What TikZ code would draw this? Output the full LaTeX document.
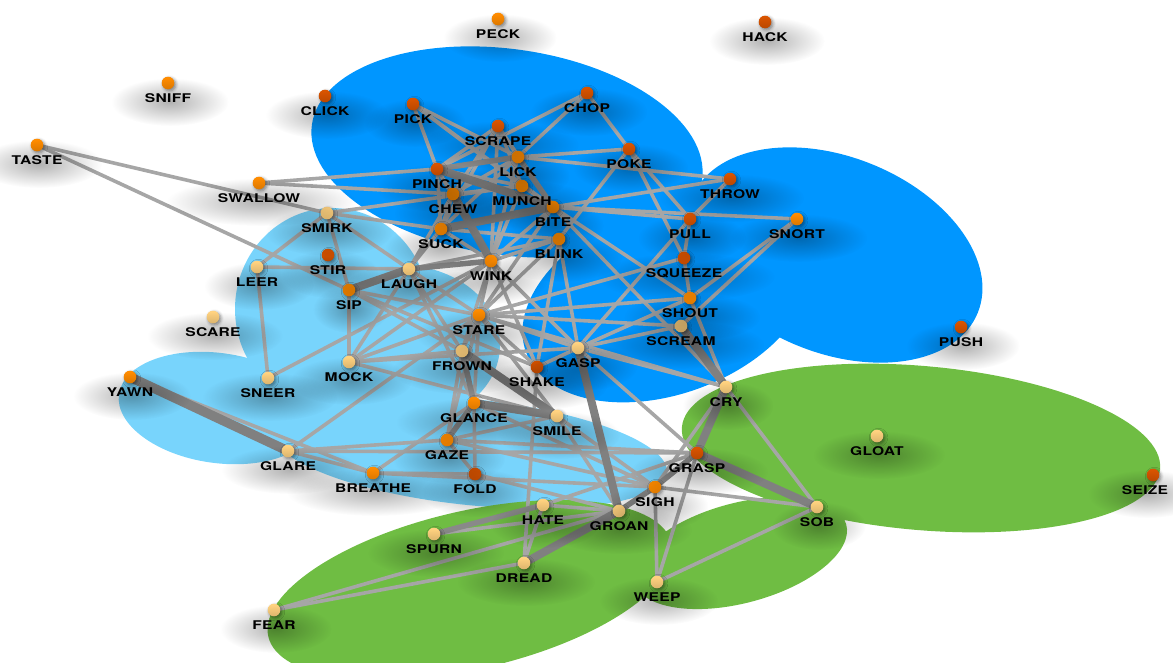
\documentclass[tikz,border=0pt]{standalone}
\usepackage{fontspec}
\setmainfont{TeX Gyre Heros}[FakeStretch=1.3,LetterSpace=2.5]
\usetikzlibrary{calc,shadows.blur,fadings}
\definecolor{dblue}{RGB}{0,150,255}
\definecolor{lblue}{RGB}{120,212,252}
\definecolor{grn}{RGB}{111,189,67}
\definecolor{cred}{RGB}{217,84,0}
\definecolor{corg}{RGB}{255,140,0}
\definecolor{cyel}{RGB}{255,210,128}
\definecolor{eln}{RGB}{166,166,166}
\definecolor{etk}{RGB}{128,128,128}
\tikzfading[name=softfade,inner color=transparent!0,outer color=transparent!100]
\newcommand\labfont{\fontsize{12}{12}\selectfont\bfseries}
\tikzset{
  vpt/.style={circle,minimum size=12.6pt,inner sep=0pt,draw=none},
  dot/.style={circle,minimum size=12.6pt,inner sep=0pt,draw=none,
    blur shadow={shadow xshift=1.5pt,shadow yshift=-1.5pt,shadow blur radius=3pt,shadow opacity=45}},
  lab/.style={font=\labfont,inner sep=0pt,text=black},
  halo/.style={fill=black,opacity=0.30,path fading=softfade},
  ln/.style={draw=eln,line width=3.6pt},
  md/.style={draw=etk!75!eln,line width=5.5pt},
  tk/.style={draw=etk,line width=8pt},
}
\newcommand\vx[3]{\node[vpt] (#2) at (#3) {};}
\newcommand\vd[2]{\path (#2) node[dot,fill=#1] {};}
\newcommand\vl[3]{%
  \node[lab] (#1lab) at ($(#1)+(#3,15)$) {#2};
  \fill[halo] let \p1=(#1lab.east), \p2=(#1lab.west), \p3=(#1lab.center) in
    (\x3+2pt,\y3-4pt) ellipse [x radius={\x1-\x2+12pt},y radius=24pt];}
\begin{document}
\begin{tikzpicture}[x=1pt,y=-1pt]
\useasboundingbox (0,0) rectangle (1173,662);
% dark blue
\fill[dblue,rotate around={-8:(507,152)}] (507,152) ellipse [x radius=197pt,y radius=103pt];
\fill[dblue,rotate around={20:(667,301)}] (667,301) ellipse [x radius=150pt,y radius=93pt];
\fill[dblue,rotate around={-22:(835,255)}] (835,255) ellipse [x radius=154pt,y radius=98pt];
% light blue
\fill[lblue] (332,309) ellipse [x radius=97pt,y radius=101pt];
\fill[lblue] (400,345) ellipse [x radius=100pt,y radius=80pt];
\fill[lblue,rotate around={-8:(218,408)}] (218,408) ellipse [x radius=100pt,y radius=55pt];
\fill[lblue,rotate around={-6:(470,452)}] (470,452) ellipse [x radius=198pt,y radius=53pt];
% green
\fill[grn,rotate around={-5:(921,448)}] (921,448) ellipse [x radius=240pt,y radius=82pt];
\fill[grn,rotate around={15:(740,553)}] (740,553) ellipse [x radius=110pt,y radius=50pt];
\fill[grn,rotate around={13:(470,590)}] (470,590) ellipse [x radius=207pt,y radius=79pt];
% vertex positions
\vx{corg}{PECK}{498,19}
\vx{cred}{HACK}{765,22}
\vx{corg}{SNIFF}{168,83}
\vx{cred}{CLICK}{325,96}
\vx{cred}{PICK}{413,104}
\vx{cred}{CHOP}{587,93}
\vx{cred}{SCRAPE}{498,126}
\vx{corg}{TASTE}{37,145}
\vx{corg}{LICK}{518,157}
\vx{cred}{PINCH}{437,169}
\vx{cred}{POKE}{629,149}
\vx{corg}{MUNCH}{522,186}
\vx{cred}{THROW}{730,179}
\vx{corg}{SWALLOW}{259,183}
\vx{corg}{CHEW}{453,194}
\vx{corg}{BITE}{553,207}
\vx{cred}{PULL}{690,219}
\vx{corg}{SNORT}{797,219}
\vx{cyel}{SMIRK}{327,213}
\vx{corg}{SUCK}{441,229}
\vx{corg}{BLINK}{559,239}
\vx{cred}{STIR}{328,255}
\vx{cyel}{LEER}{257,267}
\vx{cyel}{LAUGH}{409,269}
\vx{corg}{WINK}{491,261}
\vx{cred}{SQUEEZE}{684,258}
\vx{corg}{SIP}{349,290}
\vx{corg}{SHOUT}{690,298}
\vx{corg}{STARE}{479,315}
\vx{cyel}{SCARE}{213,317}
\vx{cyel}{SCREAM}{681,326}
\vx{cred}{PUSH}{961,327}
\vx{cyel}{FROWN}{462,351}
\vx{cyel}{GASP}{578,348}
\vx{cyel}{MOCK}{349,362}
\vx{cred}{SHAKE}{537,367}
\vx{cyel}{SNEER}{268,378}
\vx{corg}{YAWN}{130,377}
\vx{cyel}{CRY}{726,387}
\vx{corg}{GLANCE}{474,403}
\vx{cyel}{SMILE}{557,416}
\vx{cyel}{GLOAT}{877,436}
\vx{corg}{GAZE}{447,440}
\vx{cyel}{GLARE}{288,451}
\vx{cred}{GRASP}{697,453}
\vx{cred}{FOLD}{475,474}
\vx{corg}{BREATHE}{373,473}
\vx{cred}{SEIZE}{1153,475}
\vx{corg}{SIGH}{655,487}
\vx{cyel}{HATE}{543,505}
\vx{cyel}{SOB}{817,507}
\vx{cyel}{GROAN}{619,511}
\vx{cyel}{SPURN}{434,534}
\vx{cyel}{DREAD}{524,563}
\vx{cyel}{WEEP}{657,582}
\vx{cyel}{FEAR}{274,610}
% edges
\foreach \a/\b in {TASTE/SMIRK,TASTE/SIP,SWALLOW/PINCH,SWALLOW/CHEW,
  SMIRK/LEER,SMIRK/SIP,SMIRK/LAUGH,SMIRK/MUNCH,SMIRK/SUCK,
  LEER/SNEER,LEER/LAUGH,SNEER/WINK,
  SIP/MOCK,SIP/STARE,SIP/FROWN,SIP/SHAKE,
  LAUGH/SUCK,LAUGH/CHEW,LAUGH/BLINK,LAUGH/STARE,LAUGH/FROWN,LAUGH/MOCK,LAUGH/GLANCE,
  MOCK/STARE,MOCK/FROWN,MOCK/SMILE,MOCK/GASP,MOCK/WINK,
  GLARE/BREATHE,GLARE/GAZE,GLARE/STARE,GLARE/GRASP,YAWN/BREATHE,
  BREATHE/FOLD,BREATHE/SIGH,BREATHE/GLANCE,
  GAZE/FOLD,GAZE/FROWN,GAZE/STARE,GAZE/SMILE,GAZE/SIGH,GAZE/GRASP,
  FOLD/GLANCE,FOLD/GROAN,GLANCE/STARE,GLANCE/SIGH,
  SMILE/STARE,SMILE/SIGH,SMILE/GROAN,
  SHAKE/DREAD,SHAKE/GASP,SHAKE/STARE,SHAKE/WINK,SHAKE/BLINK,
  GASP/CRY,GASP/SCREAM,GASP/SHOUT,GASP/GRASP,GASP/STARE,GASP/BLINK,GASP/PULL,GASP/WINK,
  CRY/SOB,CRY/SHOUT,CRY/SIGH,CRY/STARE,CRY/BITE,
  GRASP/WEEP,GRASP/HATE,SIGH/WEEP,SIGH/SOB,SOB/WEEP,
  GROAN/HATE,GROAN/SPURN,FEAR/GROAN,FEAR/DREAD,HATE/DREAD,
  PICK/PINCH,PICK/LICK,PICK/MUNCH,PICK/BITE,
  CHOP/PINCH,CHOP/LICK,CHOP/POKE,
  SCRAPE/PINCH,SCRAPE/LICK,SCRAPE/CHEW,SCRAPE/MUNCH,SCRAPE/BITE,SCRAPE/SUCK,
  POKE/LICK,POKE/PULL,POKE/SQUEEZE,POKE/BLINK,
  THROW/LICK,THROW/PULL,THROW/BITE,PULL/BITE,PULL/SQUEEZE,
  SNORT/BITE,SNORT/SHOUT,SNORT/SCREAM,SQUEEZE/SHOUT,SQUEEZE/STARE,
  SHOUT/STARE,SHOUT/BITE,SCREAM/STARE,BITE/STARE,BITE/WINK,
  BLINK/STARE,BLINK/WINK,BLINK/SUCK,
  WINK/STARE,WINK/FROWN,WINK/LICK,WINK/MUNCH,WINK/SCRAPE,WINK/PINCH,
  CHEW/PINCH,CHEW/LICK,CHEW/SUCK,CHEW/MUNCH,SUCK/PINCH,SUCK/LICK,SUCK/WINK,
  MUNCH/BITE,MUNCH/PINCH,STARE/FROWN}
  \draw[ln] (\a.center) -- (\b.center);
\foreach \a/\b in {LAUGH/WINK,PINCH/LICK,LICK/BITE,FROWN/GLANCE,GLANCE/GAZE,
  GROAN/SIGH,SIGH/GRASP,HATE/SPURN}
  \draw[md] (\a.center) -- (\b.center);
\foreach \a/\b in {SIP/LAUGH,SUCK/BITE,PINCH/BITE,CHEW/WINK,GLANCE/SMILE,FROWN/SMILE,
  GASP/GROAN,GROAN/DREAD,GRASP/SOB,SCREAM/CRY,GRASP/CRY}
  \draw[tk] (\a.center) -- (\b.center);
\draw[tk,line width=9.5pt] (YAWN.center) -- (GLARE.center);
% dots
\foreach \w in {PECK,SNIFF,TASTE,LICK,MUNCH,SWALLOW,CHEW,BITE,SNORT,SUCK,BLINK,WINK,SIP,SHOUT,
  STARE,YAWN,GLANCE,GAZE,BREATHE,SIGH}
  \vd{corg}{\w};
\foreach \w in {HACK,CLICK,PICK,CHOP,SCRAPE,PINCH,POKE,THROW,PULL,STIR,SQUEEZE,PUSH,SHAKE,
  GRASP,FOLD,SEIZE}
  \vd{cred}{\w};
\foreach \w in {SMIRK,LEER,LAUGH,SCARE,SCREAM,FROWN,GASP,MOCK,SNEER,CRY,SMILE,GLOAT,GLARE,
  HATE,SOB,GROAN,SPURN,DREAD,WEEP,FEAR}
  \vd{cyel}{\w};
% labels
\foreach \w in {PECK,HACK,SNIFF,CLICK,PICK,CHOP,SCRAPE,TASTE,LICK,PINCH,POKE,MUNCH,THROW,
  SWALLOW,CHEW,BITE,PULL,SNORT,SMIRK,SUCK,BLINK,STIR,LEER,LAUGH,WINK,SQUEEZE,SIP,SHOUT,
  STARE,SCARE,SCREAM,PUSH,FROWN,GASP,MOCK,SHAKE,SNEER,YAWN,CRY,GLANCE,SMILE,GLOAT,GAZE,
  GLARE,GRASP,FOLD,BREATHE,SIGH,HATE,SOB,GROAN,SPURN,DREAD,WEEP,FEAR}
  \vl{\w}{\w}{0};
\vl{SEIZE}{SEIZE}{-8}
\end{tikzpicture}
\end{document}
